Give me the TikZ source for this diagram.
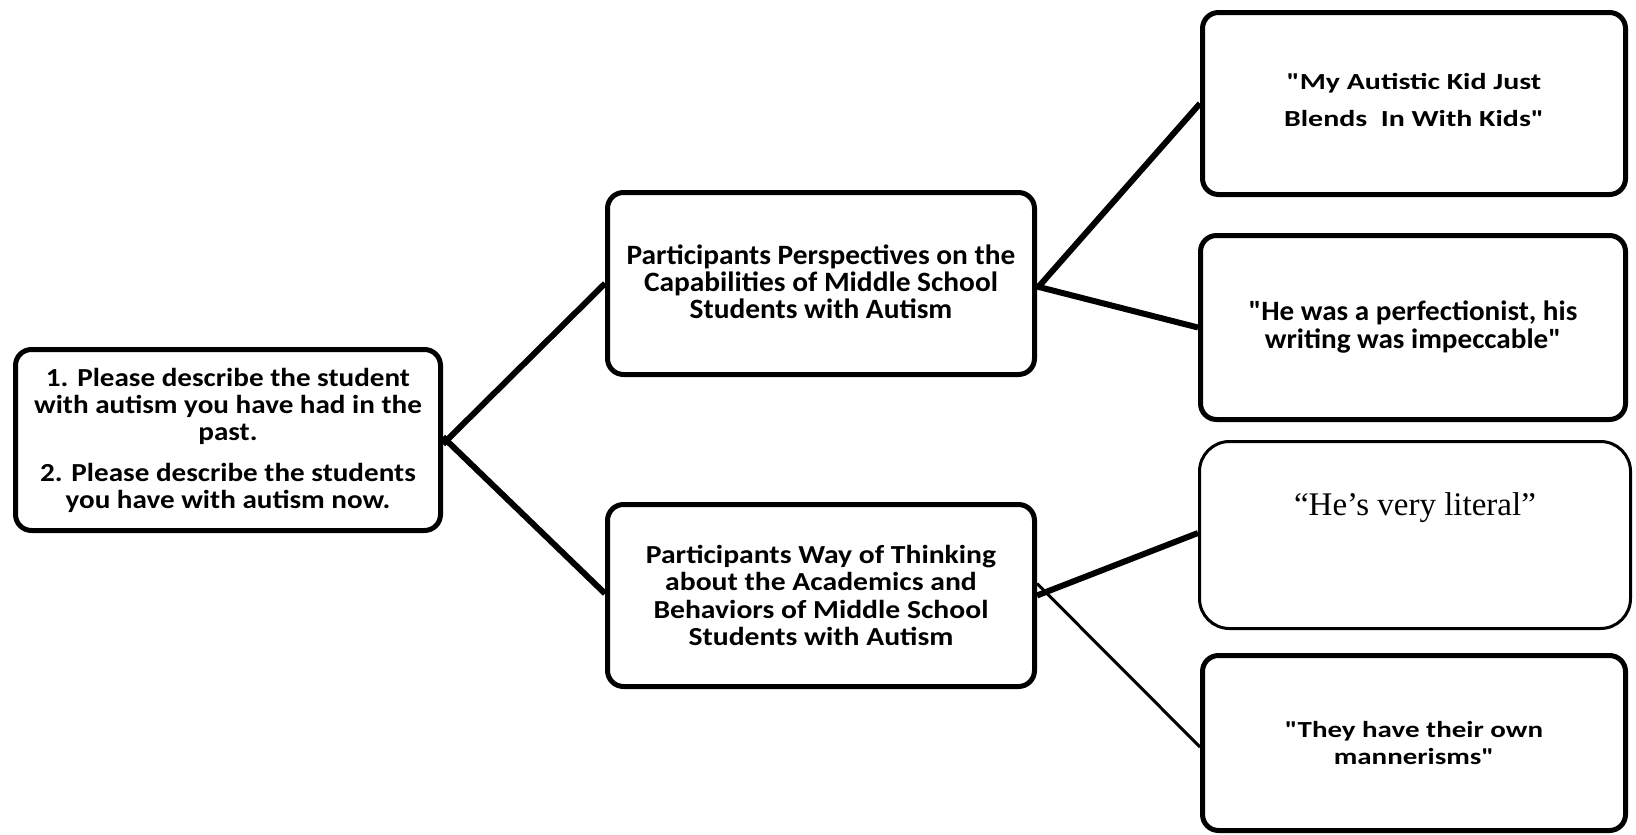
\documentclass[tikz,border=0pt]{standalone}
\usepackage{fontspec}
\setmainfont{Carlito}[Ligatures=TeXOff]
\newfontfamily\timesf{Liberation Serif}
\newcommand{\stretchfont}[3]{\bfseries\addfontfeatures{FakeStretch=#1}\fontsize{#2}{#3}\selectfont}
\begin{document}
\begin{tikzpicture}[x=1pt,y=-1pt,
  box/.style={draw=black, line width=5pt, rounded corners=16pt, fill=white, align=center, inner sep=0pt},
  link/.style={line width=6pt},
  thinlink/.style={line width=3pt}]
\useasboundingbox (0,0) rectangle (1636,835);
\node[box, minimum width=425pt, minimum height=181pt, font=\stretchfont{1.12}{26}{27}] (q) at (228,440)
  {1. Please describe the student\\with autism you have had in the\\past.\\[14pt]2. Please describe the students\\you have with autism now.};
\node[box, minimum width=427pt, minimum height=182pt, font=\stretchfont{1.05}{28}{27}] (p1) at (821,283.5)
  {Participants Perspectives on the\\Capabilities of Middle School\\Students with Autism\\[-24pt]};
\node[box, minimum width=427pt, minimum height=182pt, font=\stretchfont{1.14}{26}{27.5}] (p2) at (821,595.5)
  {Participants Way of Thinking\\about the Academics and\\Behaviors of Middle School\\Students with Autism};
\node[box, minimum width=423pt, minimum height=182pt, font=\stretchfont{1.3}{23}{37}] (r1) at (1414,103.5)
  {"My Autistic Kid Just\\Blends~ In With Kids"\\[-29pt]};
\node[box, minimum width=425pt, minimum height=184pt, font=\stretchfont{1.04}{28}{28}] (r2) at (1413,327.5)
  {"He was a perfectionist, his\\writing was impeccable"};
\node[box, line width=3pt, rounded corners=30pt, minimum width=431pt, minimum height=187pt, font=\timesf\fontsize{33}{34}\selectfont] (r3) at (1415,535)
  {“He’s very literal”\\[28pt]};
\node[box, minimum width=423pt, minimum height=175pt, font=\stretchfont{1.26}{23}{27}] (r4) at (1414,743)
  {"They have their own\\mannerisms"};
\draw[link] ([yshift=-4pt]q.east) -- (p1.west);
\draw[link] ([yshift=3pt]q.east) -- ([yshift=2pt]p2.west);
\draw[link] ([yshift=-5pt]p1.east) -- (r1.west);
\draw[link] ([yshift=-3pt]p1.east) -- (r2.west);
\draw[link] (p2.east) -- ([yshift=2pt]r3.west);
\draw[thinlink] ([yshift=12pt]p2.east) -- ([yshift=-4pt]r4.west);
\end{tikzpicture}
\end{document}
